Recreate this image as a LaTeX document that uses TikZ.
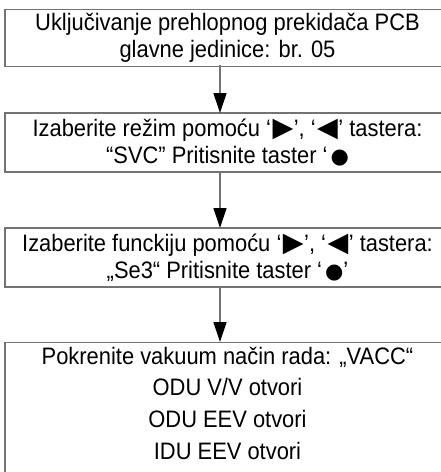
\documentclass[tikz,border=0pt]{standalone}
\usepackage{fontspec}
\setmainfont[FakeStretch=0.92]{Liberation Sans}
\newfontfamily\symfont{DejaVu Sans}
\usetikzlibrary{arrows.meta}
\definecolor{boxgray}{gray}{0.45}
\newcommand{\tri}[1]{\kern1.5pt{\symfont\fontsize{27}{27}\selectfont #1}\kern0.5pt}
\newcommand{\dotsym}{\kern3pt{\symfont\fontsize{21}{21}\selectfont ●}}
\tikzset{
  flowbox/.style={draw=boxgray, line width=1.4pt, minimum width=445pt, minimum height=57pt, inner sep=0pt, align=center, font=\fontsize{23.8}{27}\selectfont, fill=white},
  flowtext/.style={align=center, inner sep=0pt, font=\fontsize{23.8}{31.7}\selectfont},
  flowarrow/.style={draw=boxgray, line width=1.3pt, -{Triangle[length=20pt,width=13pt,fill=black,color=black]}}
}
\begin{document}
\begin{tikzpicture}[x=1pt,y=-1pt]
\useasboundingbox (0,0) rectangle (441,472);
\clip (0,0) rectangle (441,472);
\fill[white] (0,0) rectangle (441,472);
\node[flowbox] (b1) at (227.5,38) {Uključivanje prehlopnog prekidača PCB\\glavne jedinice: br. 05};
\node[flowbox, minimum height=59pt] (b2) at (227.5,142.5) {Izaberite režim pomoću ‘\tri{▶}’, ‘\tri{◀}’ tastera:\\“SVC” Pritisnite taster ‘\dotsym};
\node[flowbox, minimum height=59pt] (b3) at (227.5,257.5) {Izaberite funckiju pomoću ‘\tri{▶}’, ‘\tri{◀}’ tastera:\\„Se3“ Pritisnite taster ‘\dotsym’};
\node[flowbox, minimum height=160pt, anchor=north] (b4) at (227.5,342) {};
\node[flowtext] (t4) at (227.5,403) {Pokrenite vakuum način rada: „VACC“\\ODU V/V otvori\\ODU EEV otvori\\IDU EEV otvori};
\coordinate (a1s) at (220,65);
\coordinate (a1e) at (220,113);
\draw[flowarrow] (a1s) -- (a1e);
\coordinate (a2s) at (220,172);
\coordinate (a2e) at (220,228);
\draw[flowarrow] (a2s) -- (a2e);
\coordinate (a3s) at (220,287);
\coordinate (a3e) at (220,342);
\draw[flowarrow] (a3s) -- (a3e);
\end{tikzpicture}
\end{document}
